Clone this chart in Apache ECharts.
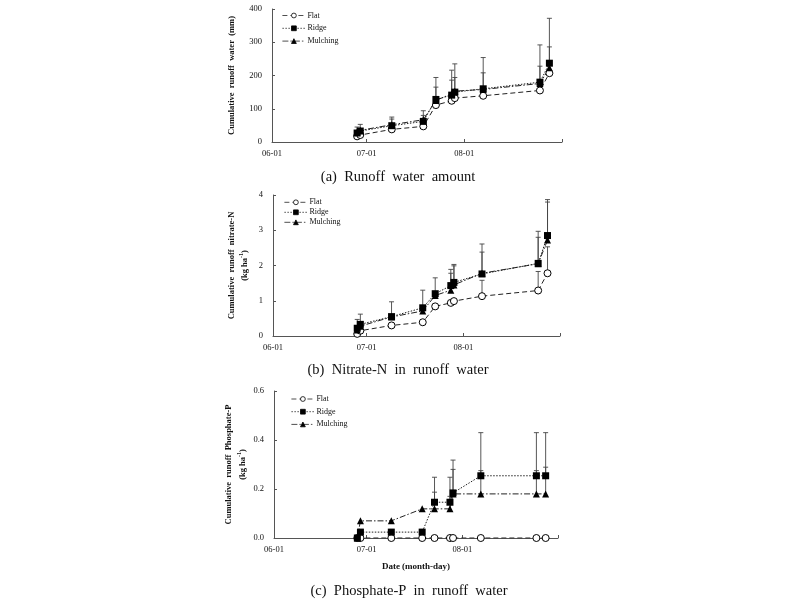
<!DOCTYPE html>
<html>
<head>
<meta charset="utf-8">
<script src="https://cdn.jsdelivr.net/npm/echarts@6/dist/echarts.min.js"></script>
<style>html,body{margin:0;padding:0;background:#fff}#c{width:800px;height:601px}</style>
</head>
<body>
<div id="c"></div>
<script>
// ---- data ----
const dates = ['2013-06-28','2013-06-29','2013-07-09','2013-07-19','2013-07-23','2013-07-28','2013-07-29','2013-08-07','2013-08-25','2013-08-28'];
const seriesNames = ['Flat', 'Ridge', 'Mulching'];
const xLabelDates = ['2013-06-01', '2013-07-01', '2013-08-01'];
const xTickDates = ['2013-06-01', '2013-07-01', '2013-08-01', '2013-09-01'];

// (a) cumulative runoff water (mm)
const runoffFlat     = [17, 21, 38, 47, 111, 124, 132, 139, 155, 207];
const runoffRidge    = [27, 33, 49, 62, 128, 141, 150, 160, 180, 237];
const runoffMulching = [30, 35, 52, 67, 125, 145, 153, 158, 176, 223];
const runoffRidgeUpper    = [null, 53, 75, 94, 194, 216, 235, 254, 292, 372];
const runoffMulchingUpper = [45, null, 69, 80, 165, 186, 194, 208, 228, 286];

// (b) cumulative runoff nitrate-N (kg ha-1)
const nitrateFlat     = [0.06, 0.15, 0.30, 0.39, 0.84, 0.94, 0.99, 1.13, 1.29, 1.78];
const nitrateRidge    = [0.22, 0.33, 0.55, 0.80, 1.20, 1.43, 1.52, 1.76, 2.06, 2.85];
const nitrateMulching = [0.17, 0.28, 0.54, 0.71, 1.15, 1.30, 1.45, 1.78, 2.05, 2.72];
const nitrateFlatUpper     = [null, null, null, null, null, null, null, 1.58, 1.83, 2.53];
const nitrateRidgeUpper    = [0.47, 0.62, 0.97, 1.30, 1.65, 1.89, 2.03, 2.61, 2.97, 3.87];
const nitrateMulchingUpper = [null, null, null, null, null, 1.78, 1.99, 2.38, 2.80, 3.80];

// (c) cumulative runoff phosphate-P (kg ha-1)
const phosFlat     = [0, 0, 0, 0, 0, 0, 0, 0, 0, 0];
const phosRidge    = [0, 0.024, 0.024, 0.024, 0.146, 0.146, 0.184, 0.254, 0.254, 0.254];
const phosMulching = [0, 0.07, 0.07, 0.119, 0.119, 0.119, 0.18, 0.18, 0.18, 0.18];
const phosRidgeUpper    = [null, 0.035, 0.035, 0.035, 0.248, 0.248, 0.318, 0.43, 0.43, 0.43];
const phosMulchingUpper = [null, null, null, null, 0.187, 0.17, 0.28, 0.275, 0.275, 0.289];

const captions = ['(a)  Runoff  water  amount', '(b)  Nitrate-N  in  runoff  water', '(c)  Phosphate-P  in  runoff  water'];
const yTitles = ['Cumulative  runoff  water  (mm)', 'Cumulative  runoff  nitrate-N\n(kg ha{sup|-1})', 'Cumulative  runoff  Phosphate-P\n(kg ha{sup|-1})'];
const xTitle = 'Date (month-day)';

// ---- styles ----
const FONT = '"Liberation Serif", "Times New Roman", serif';
const INK = '#111';
const STY = {
  Flat:     { symbol: 'circle',   size: 7,   dash: [5, 3],          fill: '#fff' },
  Ridge:    { symbol: 'rect',     size: 7,   dash: [1.5, 1.5],      fill: '#000' },
  Mulching: { symbol: 'triangle', size: 7,   dash: [6, 2, 1.5, 2],  fill: '#000' }
};

function toTs(s) { const p = s.split('-').map(Number); return new Date(p[0], p[1] - 1, p[2]).getTime(); }
function pad(n) { return (n < 10 ? '0' : '') + n; }

const panels = [
  { grid: { left: 272, top: 9, width: 290, height: 133 }, max: 400, interval: 100, dec: 0,
    vals: { Flat: runoffFlat, Ridge: runoffRidge, Mulching: runoffMulching },
    ups: { Ridge: runoffRidgeUpper, Mulching: runoffMulchingUpper },
    nameGap: 33, legend: { left: 282, top: 10.5, gap: 2.8 }, caption: { x: 398, y: 177 } },
  { grid: { left: 273, top: 195, width: 287, height: 141 }, max: 4, interval: 1, dec: 0,
    vals: { Flat: nitrateFlat, Ridge: nitrateRidge, Mulching: nitrateMulching },
    ups: { Flat: nitrateFlatUpper, Ridge: nitrateRidgeUpper, Mulching: nitrateMulchingUpper },
    nameGap: 21, legend: { left: 284, top: 197.3, gap: 0 }, caption: { x: 398, y: 370 } },
  { grid: { left: 274, top: 391, width: 284, height: 147 }, max: 0.6, interval: 0.2, dec: 1,
    vals: { Flat: phosFlat, Ridge: phosRidge, Mulching: phosMulching },
    ups: { Ridge: phosRidgeUpper, Mulching: phosMulchingUpper },
    nameGap: 20, legend: { left: 291, top: 394, gap: 2.7 }, caption: { x: 409, y: 591 } }
];

function errRender(params, api) {
  const x = api.value(0);
  const p0 = api.coord([x, api.value(1)]);
  const p1 = api.coord([x, api.value(2)]);
  const cw = 2.5;
  const st = { stroke: '#444', lineWidth: 0.9 };
  return { type: 'group', children: [
    { type: 'line', shape: { x1: p0[0], y1: p0[1], x2: p1[0], y2: p1[1] }, style: st },
    { type: 'line', shape: { x1: p1[0] - cw, y1: p1[1], x2: p1[0] + cw, y2: p1[1] }, style: st }
  ]};
}

const grids = [], xAxes = [], yAxes = [], series = [], legends = [], titles = [];
panels.forEach((P, k) => {
  grids.push(Object.assign({ containLabel: false }, P.grid));
  xAxes.push({
    type: 'value', gridIndex: k, min: toTs(xTickDates[0]), max: toTs(xTickDates[xTickDates.length - 1]),
    axisLine: { show: true, lineStyle: { color: '#555', width: 1 } },
    axisTick: { show: true, inside: true, length: 3, lineStyle: { color: '#555' }, customValues: xTickDates.map(toTs) },
    axisLabel: { customValues: xLabelDates.map(toTs), fontFamily: FONT, fontSize: 8.5, color: INK, margin: 7.5,
      formatter: v => { const d = new Date(v); return pad(d.getMonth() + 1) + '-' + pad(d.getDate()); } },
    splitLine: { show: false },
    name: k === 2 ? xTitle : '', nameLocation: 'middle', nameGap: 24,
    nameTextStyle: { fontFamily: FONT, fontSize: 9, fontWeight: 'bold', color: INK }
  });
  yAxes.push({
    type: 'value', gridIndex: k, min: 0, max: P.max, interval: P.interval,
    axisLine: { show: true, lineStyle: { color: '#555', width: 1 } },
    axisTick: { show: true, inside: true, length: 3, lineStyle: { color: '#555' } },
    axisLabel: { fontFamily: FONT, fontSize: 8.5, color: INK, margin: 10, formatter: v => v.toFixed(P.dec) },
    splitLine: { show: false },
    name: yTitles[k], nameLocation: 'middle', nameRotate: 90, nameGap: P.nameGap,
    nameTextStyle: { fontFamily: FONT, fontSize: 8.5, fontWeight: 'bold', color: INK, lineHeight: 13.5,
      rich: { sup: { fontFamily: FONT, fontSize: 6, fontWeight: 'bold', color: INK, verticalAlign: 'top', lineHeight: 13.5 } } }
  });
  // error bars first (behind markers)
  seriesNames.forEach(nm => {
    const up = P.ups[nm];
    if (!up) return;
    const data = dates.map((d, i) => up[i] == null ? null : [toTs(d), P.vals[nm][i], up[i]]).filter(Boolean);
    series.push({ type: 'custom', xAxisIndex: k, yAxisIndex: k, renderItem: errRender, data: data,
      encode: { x: 0, y: [1, 2] }, z: 1, silent: true, clip: false });
  });
  seriesNames.forEach(nm => {
    const s = STY[nm];
    series.push({
      name: nm, type: 'line', xAxisIndex: k, yAxisIndex: k,
      data: dates.map((d, i) => [toTs(d), P.vals[nm][i]]),
      symbol: s.symbol, symbolSize: s.size, showSymbol: true,
      lineStyle: { color: '#222', width: 1, type: s.dash },
      itemStyle: { color: s.fill, borderColor: '#000', borderWidth: nm === 'Flat' ? 1 : 0 },
      z: 3, animation: false
    });
  });
  legends.push({
    data: seriesNames, orient: 'vertical', left: P.legend.left, top: P.legend.top,
    itemWidth: 23, itemHeight: 6, itemGap: P.legend.gap, padding: 0, selectedMode: false,
    lineStyle: { width: 0.8 }, itemStyle: { borderWidth: 0.8 },
    textStyle: { fontFamily: FONT, fontSize: 8, color: INK, lineHeight: 10, padding: [0, 0, 0, -3] }
  });
  titles.push({
    text: captions[k], left: P.caption.x, top: P.caption.y, textAlign: 'center', textVerticalAlign: 'middle',
    padding: 0,
    textStyle: { fontFamily: FONT, fontSize: 14.5, fontWeight: 'normal', color: INK }
  });
});

const chart = echarts.init(document.getElementById('c'), null, { renderer: 'canvas' });
chart.setOption({
  backgroundColor: '#fff',
  animation: false,
  title: titles,
  legend: legends,
  grid: grids,
  xAxis: xAxes,
  yAxis: yAxes,
  series: series
});
</script>
</body>
</html>
